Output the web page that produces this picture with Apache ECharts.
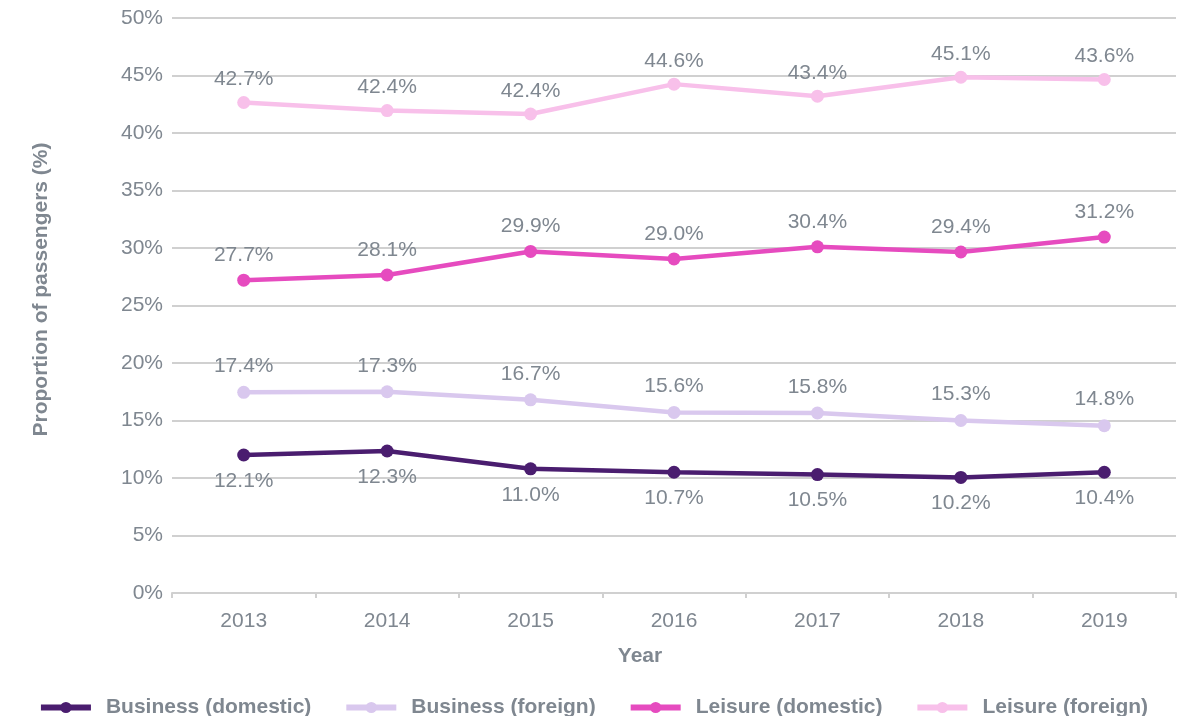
<!DOCTYPE html>
<html>
<head>
<meta charset="utf-8">
<script src="https://cdn.jsdelivr.net/npm/echarts@6/dist/echarts.min.js"></script>
<style>
  html, body { margin: 0; padding: 0; background: #fff; }
  #chart { width: 1186px; height: 716px; }
</style>
</head>
<body>
<div id="chart"></div>
<script>
// categories
const years = ['2013', '2014', '2015', '2016', '2017', '2018', '2019']

// plotted values
const businessDomestic = [12.0, 12.35, 10.8, 10.5, 10.3, 10.05, 10.5]
const businessForeign = [17.45, 17.5, 16.8, 15.7, 15.65, 15.0, 14.55]
const leisureDomestic = [27.2, 27.65, 29.7, 29.05, 30.1, 29.65, 30.95]
const leisureForeign = [42.65, 41.95, 41.65, 44.25, 43.2, 44.85, 44.65]

// printed labels
const businessDomesticLabels = ['12.1%', '12.3%', '11.0%', '10.7%', '10.5%', '10.2%', '10.4%']
const businessForeignLabels = ['17.4%', '17.3%', '16.7%', '15.6%', '15.8%', '15.3%', '14.8%']
const leisureDomesticLabels = ['27.7%', '28.1%', '29.9%', '29.0%', '30.4%', '29.4%', '31.2%']
const leisureForeignLabels = ['42.7%', '42.4%', '42.4%', '44.6%', '43.4%', '45.1%', '43.6%']

const textGrey = '#7f8790'
const font = 'Liberation Sans, Arial, sans-serif'

const makeSeries = (name, data, labels, color, pos, dist) => ({
  name,
  type: 'line',
  data,
  symbol: 'circle',
  symbolSize: 13,
  lineStyle: { width: 4.5, color },
  itemStyle: { color },
  label: {
    show: true,
    position: pos,
    distance: dist,
    color: textGrey,
    fontSize: 21,
    fontFamily: font,
    formatter: p => labels[p.dataIndex]
  },
  emphasis: { disabled: true }
})

const chart = echarts.init(document.getElementById('chart'))
chart.setOption({
  animation: false,
  backgroundColor: '#fff',
  grid: { left: 172, right: 10, top: 18, bottom: 123 },
  legend: {
    top: 692,
    left: 'center',
    itemWidth: 50,
    itemHeight: 14,
    itemGap: 32,
    lineStyle: { width: 6 },
    textStyle: { color: textGrey, fontSize: 21, fontWeight: 'bold', fontFamily: font, padding: [0, 0, 0, 10] },
    data: ['Business (domestic)', 'Business (foreign)', 'Leisure (domestic)', 'Leisure (foreign)']
  },
  xAxis: {
    type: 'category',
    data: years,
    boundaryGap: true,
    name: 'Year',
    nameLocation: 'middle',
    nameGap: 53,
    nameTextStyle: { color: textGrey, fontSize: 21, fontWeight: 'bold', fontFamily: font, padding: [0, 68, 0, 0] },
    axisLine: { lineStyle: { color: '#d0d0d0', width: 2 } },
    axisTick: { show: true, length: 5, lineStyle: { color: '#d0d0d0', width: 2 } },
    axisLabel: { color: textGrey, fontSize: 21, fontFamily: font, margin: 18 }
  },
  yAxis: {
    type: 'value',
    min: 0,
    max: 50,
    interval: 5,
    name: 'Proportion of passengers (%)',
    nameLocation: 'middle',
    nameGap: 120,
    nameTextStyle: { color: textGrey, fontSize: 21, fontWeight: 'bold', fontFamily: font, padding: [0, 0, 0, 32] },
    axisLine: { show: false },
    axisTick: { show: false },
    axisLabel: { color: textGrey, fontSize: 21, fontFamily: font, margin: 9, formatter: '{value}%' },
    splitLine: { lineStyle: { color: '#d0d0d0', width: 2 } }
  },
  series: [
    makeSeries('Business (domestic)', businessDomestic, businessDomesticLabels, '#4a1d6f', 'bottom', 9),
    makeSeries('Business (foreign)', businessForeign, businessForeignLabels, '#d9c8ee', 'top', 9),
    makeSeries('Leisure (domestic)', leisureDomestic, leisureDomesticLabels, '#e64bbf', 'top', 8),
    makeSeries('Leisure (foreign)', leisureForeign, leisureForeignLabels, '#f8c0ea', 'top', 6)
  ]
})
</script>
</body>
</html>
